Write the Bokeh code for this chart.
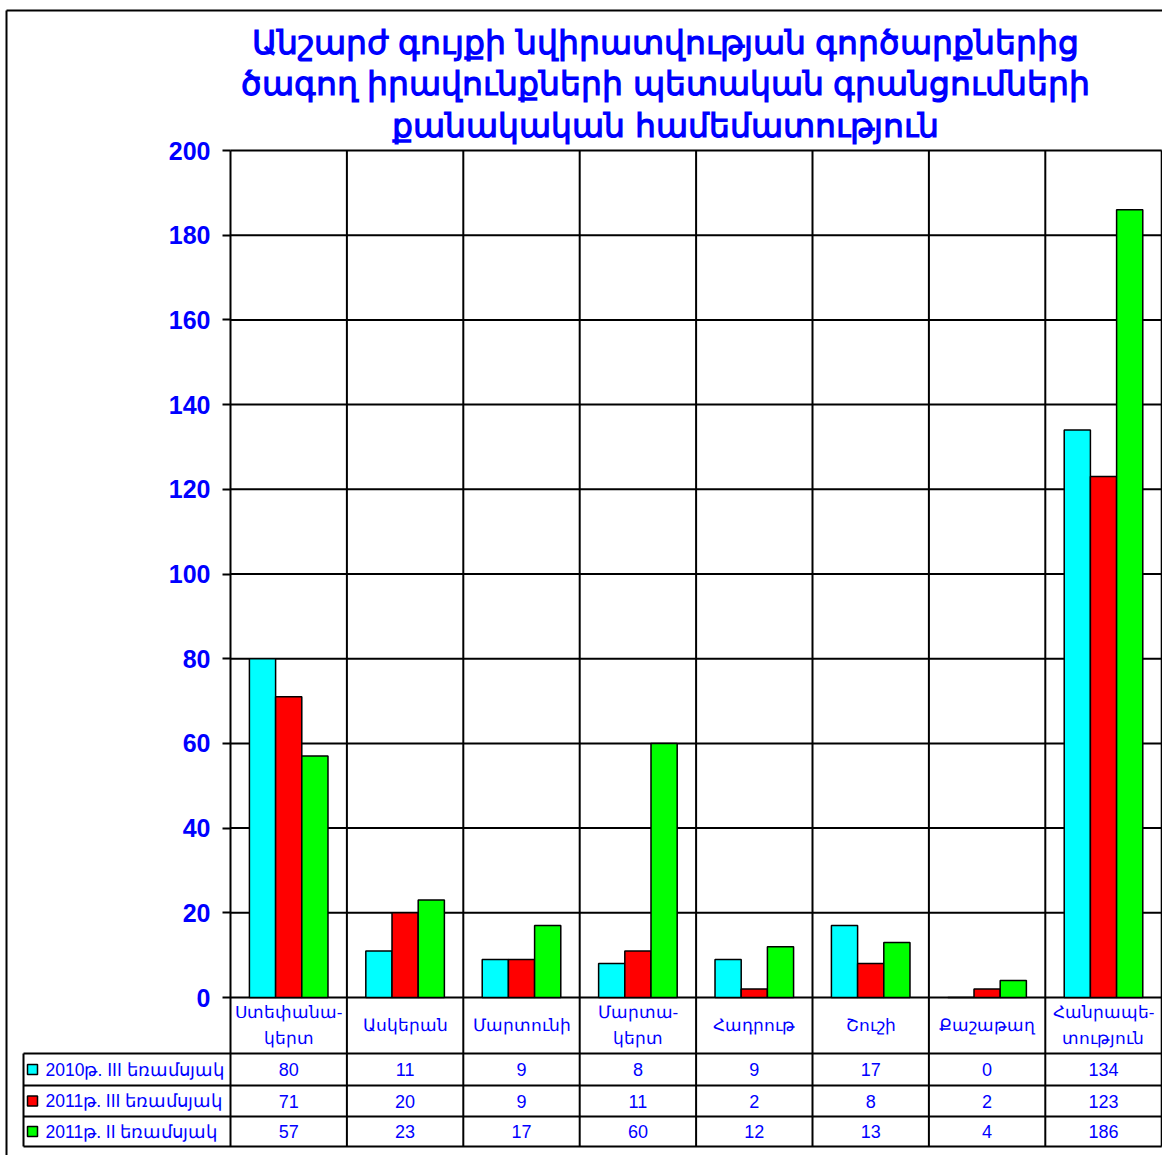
from bokeh.plotting import figure
from bokeh.models import Range1d, LinearAxis, FixedTicker
from bokeh.embed import file_html
from bokeh.resources import INLINE
from bokeh.core.properties import value

# ---------------- data ----------------
title_lines = [
    "Անշարժ գույքի նվիրատվության գործարքներից",
    "ծագող իրավունքների պետական գրանցումների",
    "քանակական համեմատություն",
]
categories = ["Ստեփանա-\nկերտ", "Ասկերան", "Մարտունի", "Մարտա-\nկերտ",
              "Հադրութ", "Շուշի", "Քաշաթաղ", "Հանրապե-\nտություն"]
series_names = ["2010թ. III եռամսյակ", "2011թ. III եռամսյակ", "2011թ. II եռամսյակ"]
q3_2010 = [80, 11, 9, 8, 9, 17, 0, 134]
q3_2011 = [71, 20, 9, 11, 2, 8, 2, 123]
q2_2011 = [57, 23, 17, 60, 12, 13, 4, 186]
y_ticks = [0, 20, 40, 60, 80, 100, 120, 140, 160, 180, 200]

series = [q3_2010, q3_2011, q2_2011]
colors = ["#00FFFF", "#FF0000", "#00FF00"]
BLUE = "#0000FF"
FONT_NAME = "Liberation Sans"
FONT = value(FONT_NAME)

# ---------------- geometry (page pixels -> data units) ----------------
W, H = 1162, 1155
NCAT = len(categories)
CW = 116.4                 # px per category
YPU = 847 / 200.0          # px per value unit

def px_x(page_x):
    return (page_x - 230) / CW

def px_y(page_y):
    return (997 - page_y) / YPU

p = figure(width=W, height=H, x_range=Range1d(px_x(0), px_x(W)), y_range=Range1d(px_y(H), px_y(0)),
           x_axis_type=None, y_axis_type=None, toolbar_location=None, output_backend="svg",
           min_border_left=0, min_border_right=0, min_border_top=0, min_border_bottom=0,
           outline_line_color=None, background_fill_color="white", border_fill_color="white")

tab_bottom = px_y(1146)
yax = LinearAxis(ticker=FixedTicker(ticks=y_ticks), fixed_location=0, bounds=(tab_bottom, 200),
                 axis_line_width=2, axis_line_color="black",
                 major_tick_line_width=2, major_tick_line_color="black",
                 major_tick_out=8, major_tick_in=0, minor_tick_line_color=None,
                 major_label_text_color=BLUE, major_label_text_font=FONT_NAME,
                 major_label_text_font_size="25px", major_label_text_font_style="bold",
                 major_label_standoff=12)
p.add_layout(yax, "left")

# outer chart-area border (left and top)
p.segment(x0=[px_x(6), px_x(6)], x1=[px_x(6), px_x(W)], y0=[px_y(10), px_y(10)],
          y1=[px_y(H), px_y(10)], line_color="black", line_width=2)

# horizontal grid
p.segment(x0=[0] * len(y_ticks), x1=[NCAT] * len(y_ticks), y0=y_ticks, y1=y_ticks,
          line_color="black", line_width=2)
# vertical category separators (plot + header + table)
p.segment(x0=list(range(1, NCAT + 1)), x1=list(range(1, NCAT + 1)),
          y0=[tab_bottom] * NCAT, y1=[200] * NCAT, line_color="black", line_width=2)

# bars
bw = 0.225
offsets = [-bw, 0.0, bw]
for vals, col, off in zip(series, colors, offsets):
    p.vbar(x=[i + 0.5 + off for i in range(NCAT)], top=vals, bottom=0, width=bw,
           fill_color=col, line_color="black", line_width=1.5)

# title
p.text(x=[px_x(665)] * 3, y=[px_y(42), px_y(83), px_y(125)], text=title_lines,
       text_align="center", text_baseline="middle", text_font=FONT,
       text_font_size="33px", text_font_style="bold", text_color=BLUE)

# category header row
p.text(x=[i + 0.5 for i in range(NCAT)], y=[px_y(1025)] * NCAT, text=categories,
       text_align="center", text_baseline="middle", text_font=FONT,
       text_font_size="17px", text_color=BLUE, text_line_height=1.4)

# ---------------- data table ----------------
x_leg = px_x(23)
row_lines = [px_y(1053), px_y(1085), px_y(1116), px_y(1146)]
p.segment(x0=[x_leg] * 4, x1=[NCAT] * 4, y0=row_lines, y1=row_lines,
          line_color="black", line_width=2)
p.segment(x0=[x_leg], x1=[x_leg], y0=[row_lines[0]], y1=[row_lines[-1]],
          line_color="black", line_width=2)

row_y = [(row_lines[k] + row_lines[k + 1]) / 2 for k in range(3)]
p.rect(x=[px_x(32)] * 3, y=row_y, width=10, height=10, width_units="screen",
       height_units="screen", fill_color=colors, line_color="black", line_width=1.5)
p.text(x=[px_x(45)] * 3, y=row_y, text=series_names, text_align="left",
       text_baseline="middle", text_font=FONT, text_font_size="17.5px", text_color=BLUE)

for vals, ry in zip(series, row_y):
    p.text(x=[i + 0.5 for i in range(NCAT)], y=[ry] * NCAT, text=[str(v) for v in vals],
           text_align="center", text_baseline="middle", text_font=FONT,
           text_font_size="18px", text_color=BLUE)

open("out.html", "w").write(file_html(p, INLINE))
